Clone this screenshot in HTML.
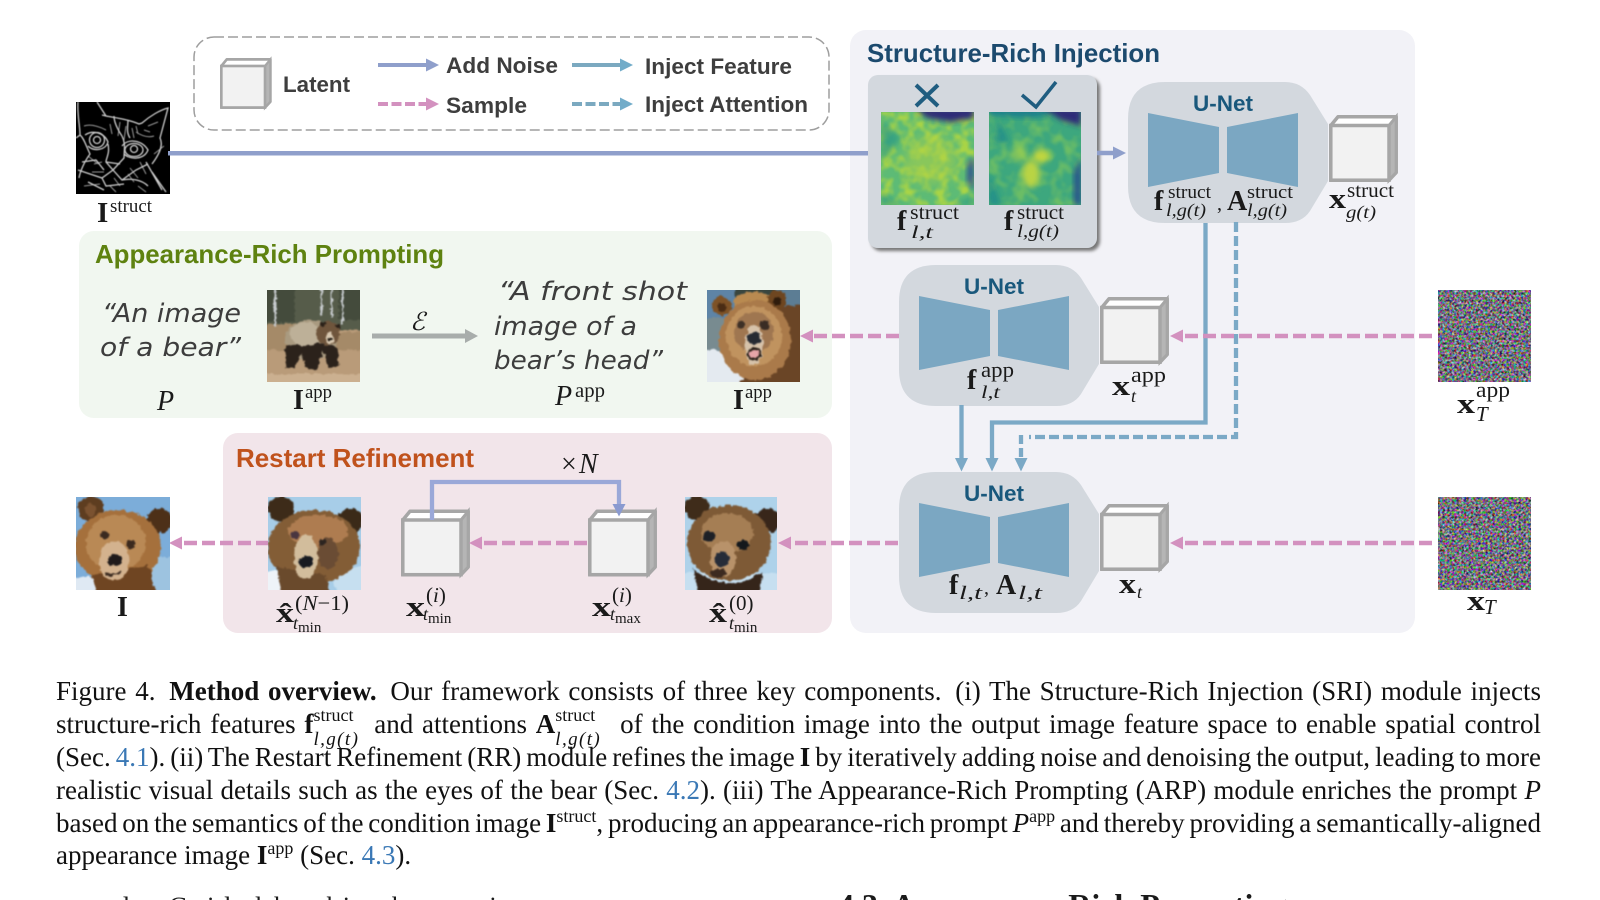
<!DOCTYPE html>
<html><head><meta charset="utf-8"><style>
html,body{margin:0;padding:0;background:#fff;width:1600px;height:900px;overflow:hidden}
#w{position:relative;width:1600px;height:900px;overflow:hidden}
svg{position:absolute;left:0;top:0}
text{font-family:"Liberation Serif",serif;fill:#1a1a1a}
.s{font-family:"Liberation Sans",sans-serif;font-weight:bold}
.lg{font-size:22px;fill:#3e3e3e}
.tt{font-size:25.8px}
.un{font-size:22.5px;fill:#19587c}
.b{font-weight:bold;font-size:28px}
.u{font-size:19px}
.a{font-size:22px}
.d{font-size:18px;font-style:italic}
.h{font-family:"DejaVu Sans",sans-serif;font-style:italic;font-size:26px;fill:#3d3d3d}
.l{position:absolute;left:56px;width:1485px;font:27px/33px "Liberation Serif",serif;color:#111;text-align:justify;text-align-last:justify;white-space:nowrap;height:33px}
.l.e{text-align-last:left}
.l a{color:#3a78b5}
.m{display:inline-block;position:relative;height:0;vertical-align:baseline}
.m span{position:absolute;left:0;line-height:1}
.sp{font-size:18px;bottom:9px;left:1px}
.sb{font-size:19px;font-style:italic;top:-3px;letter-spacing:1.400px}
.g{display:inline-block;width:5px}
</style></head><body><div id="w">
<svg width="1600" height="900" viewBox="0 0 1600 900" xmlns="http://www.w3.org/2000/svg">
<defs>
<filter id="bl" x="-10%" y="-10%" width="120%" height="120%" color-interpolation-filters="sRGB"><feTurbulence type="fractalNoise" baseFrequency="0.22" numOctaves="2" seed="3" result="t"/><feDisplacementMap in="SourceGraphic" in2="t" scale="5" xChannelSelector="R" yChannelSelector="G"/><feGaussianBlur stdDeviation="0.900"/></filter>
<filter id="bl0" x="-5%" y="-5%" width="110%" height="110%"><feGaussianBlur stdDeviation="0.400"/></filter>
<filter id="bl3" x="-30%" y="-30%" width="160%" height="160%"><feGaussianBlur stdDeviation="3"/></filter>
<filter id="bl6" x="-40%" y="-40%" width="180%" height="180%"><feGaussianBlur stdDeviation="6"/></filter>
<filter id="noise" x="0" y="0" width="100%" height="100%" color-interpolation-filters="sRGB"><feTurbulence type="fractalNoise" baseFrequency="0.42" numOctaves="2" seed="4"/><feColorMatrix values="1.500 0 0 0 -.30  0 1.500 0 0 -.30  0 0 1.500 0 -.26  0 0 0 0 1"/><feGaussianBlur stdDeviation=".35"/></filter>
<filter id="noise2" x="0" y="0" width="100%" height="100%" color-interpolation-filters="sRGB"><feTurbulence type="fractalNoise" baseFrequency="0.42" numOctaves="2" seed="11"/><feColorMatrix values="1.500 0 0 0 -.30  0 1.500 0 0 -.30  0 0 1.500 0 -.26  0 0 0 0 1"/><feGaussianBlur stdDeviation=".35"/></filter>
<filter id="heat" x="0" y="0" width="100%" height="100%" color-interpolation-filters="sRGB"><feTurbulence type="fractalNoise" baseFrequency="0.09" numOctaves="2" seed="7"/><feColorMatrix values="0 0 0 0 .66  0 0 0 0 .83  0 0 0 0 .28  3 0 0 0 -1.150"/><feGaussianBlur stdDeviation=".9"/></filter>
<filter id="heat2" x="0" y="0" width="100%" height="100%" color-interpolation-filters="sRGB"><feTurbulence type="fractalNoise" baseFrequency="0.08" numOctaves="2" seed="21"/><feColorMatrix values="0 0 0 0 .42  0 0 0 0 .74  0 0 0 0 .40  3 0 0 0 -1.250"/><feGaussianBlur stdDeviation=".9"/></filter>
<filter id="sh" x="-5%" y="-5%" width="112%" height="112%"><feDropShadow dx="3" dy="3" stdDeviation="1.600" flood-color="#777" flood-opacity="1"/></filter>
<path id="unet" d="M936 265H1056Q1072 265 1081 278L1099 307V364L1081 394Q1073 406 1056 406H936Q899 406 899 369V302Q899 265 936 265Z" fill="#d3d8de"/>
<g id="tz"><path d="M919 296L990 310V356L919 370Z" fill="#7ba7c2"/><path d="M1069 296L998 310V356L1069 370Z" fill="#7ba7c2"/></g>
<g id="cube"><path d="M1.800 10.500L9 1.800H67.200V57.500L60 65.200H1.800Z" fill="#fff" stroke="#a6a6a6" stroke-width="3.500" stroke-linejoin="round"/><path d="M60 10.500L67.200 1.800V57.500L60 65.200Z" fill="#b5b5b5" stroke="#a6a6a6" stroke-width="3"/><rect x="1.800" y="10.500" width="58.200" height="54.700" fill="#f2f2f2" stroke="#a6a6a6" stroke-width="3.500"/></g>
</defs>

<!-- panels -->
<rect x="850" y="30" width="565" height="603" rx="16" fill="#f2f2f7"/>
<rect x="79" y="231" width="753" height="187" rx="15" fill="#f1f7f0"/>
<rect x="223" y="433" width="609" height="200" rx="15" fill="#f2e5ea"/>
<text class="s tt" x="867" y="62" textLength="293" lengthAdjust="spacingAndGlyphs" style="fill:#1c4a6e">Structure-Rich Injection</text>

<!-- legend -->
<rect x="194" y="37" width="635" height="93" rx="20" fill="none" stroke="#9e9e9e" stroke-width="1.500" stroke-dasharray="10 4"/>
<use href="#cube" transform="translate(220,58) scale(.75,.76)"/>
<text class="s lg" x="283" y="92" textLength="67" lengthAdjust="spacingAndGlyphs">Latent</text>
<path d="M378 65H426" stroke="#8f9fcb" stroke-width="4"/><path d="M426 58.500L439 65L426 71.500Z" fill="#8f9fcb"/>
<path d="M378 104H426" stroke="#d391bf" stroke-width="4" stroke-dasharray="10 3.500"/><path d="M426 97.500L439 104L426 110.500Z" fill="#d391bf"/>
<path d="M572 65H620" stroke="#7ba9c0" stroke-width="4"/><path d="M620 58.500L633 65L620 71.500Z" fill="#72acc9"/>
<path d="M572 104H620" stroke="#7ba9c0" stroke-width="4" stroke-dasharray="10 3.500"/><path d="M620 97.500L633 104L620 110.500Z" fill="#72acc9"/>
<text class="s lg" x="446" y="73" textLength="112" lengthAdjust="spacingAndGlyphs">Add Noise</text>
<text class="s lg" x="446" y="113" textLength="81" lengthAdjust="spacingAndGlyphs">Sample</text>
<text class="s lg" x="645" y="74" textLength="147" lengthAdjust="spacingAndGlyphs">Inject Feature</text>
<text class="s lg" x="645" y="112" textLength="163" lengthAdjust="spacingAndGlyphs">Inject Attention</text>

<!-- cat -->
<svg x="76" y="102" width="94" height="92" viewBox="0 0 94 92">
<rect width="94" height="92" fill="#000"/>
<g fill="none" stroke="#e2e2e2" stroke-width="1.300" opacity=".9" filter="url(#bl0)">
<path d="M2 0C1 12 4 24 4 33L0 36M4 33C8 36 10 44 14 52C8 60 4 70 3 76"/>
<path d="M21 0L30 14L26 13M30 14C42 16 54 18 63 22L66 21C74 14 84 8 92 6L84 36C88 44 82 54 76 62"/>
<circle cx="21" cy="38" r="7.500"/><circle cx="21" cy="38" r="3.500"/><path d="M9 33C16 28 28 30 32 40C30 48 18 50 12 44"/>
<ellipse cx="58" cy="48" rx="9" ry="6.500"/><circle cx="58" cy="47" r="3.500"/><path d="M46 44C52 36 66 38 72 48C68 58 54 58 48 52"/>
<path d="M32 42C34 52 30 56 30 60L37 68L48 56C48 48 50 42 46 34M30 60L44 62M37 68L26 76L2 68M37 68L46 78C56 76 66 78 72 84M46 78L60 68L72 62M26 76L30 84L48 82"/>
<path d="M38 14C38 20 42 28 46 34M52 18C52 24 50 30 54 36M70 60L86 88M76 70L90 90M12 80L28 88M6 60L20 58L28 68"/>
<path d="M8 24C14 22 22 24 30 28M60 30C66 34 72 36 78 34M44 20L42 34M50 24L48 38M56 26L58 36M68 28L74 30M12 54L22 62M16 70L28 70M54 66L62 76M64 60L70 72M8 84L24 82M34 84L40 90M62 84L70 90M78 52L88 44M72 24L82 20M34 22L36 32M60 24L62 32M18 62L26 60M38 76L44 84M52 72L58 80" stroke-width="1" opacity=".75"/>
</g></svg>

<!-- main blue line -->
<rect x="168" y="151" width="702" height="4.500" fill="#8f9fcb"/>

<!-- gray box -->
<rect x="868" y="75" width="229" height="173" rx="10" fill="#d3d8de" filter="url(#sh)"/>
<path d="M916 85L938 106M938 85L916 106" stroke="#1f5d80" stroke-width="4" fill="none"/>
<path d="M1022 95L1036 107L1056 82" stroke="#1f5d80" stroke-width="3.500" fill="none"/>

<!-- heatmap 1 -->
<svg x="881" y="112" width="93" height="93" viewBox="0 0 93 93">
<rect width="93" height="93" fill="#5dbb76"/>
<rect width="93" height="93" filter="url(#heat)"/>
<ellipse cx="50" cy="48" rx="26" ry="24" fill="#b5d342" opacity=".5" filter="url(#bl6)"/>
<path d="M34 -4H93V6L70 10L46 6Z" fill="#2f2a78" filter="url(#bl3)"/>
<path d="M93 45V80L86 68L87 50Z" fill="#2f4f8f" filter="url(#bl3)"/>
<path d="M0 8L20 26L8 40L0 50ZM0 80L20 93H0ZM70 93H93V84Z" fill="#2c9a85" opacity=".75" filter="url(#bl3)"/>
</svg>
<!-- heatmap 2 -->
<svg x="989" y="112" width="92" height="93" viewBox="0 0 92 93">
<rect width="92" height="93" fill="#3da77e"/>
<rect width="92" height="93" filter="url(#heat2)"/>
<ellipse cx="42" cy="62" rx="9" ry="14" fill="#cfdc3a" opacity=".85" filter="url(#bl3)"/>
<ellipse cx="52" cy="44" rx="8" ry="7" fill="#d5dd35" opacity=".85" filter="url(#bl3)"/>
<ellipse cx="30" cy="42" rx="8" ry="8" fill="#a8d34a" opacity=".6" filter="url(#bl3)"/>
<path d="M0 -4H62V3L40 6L0 3Z" fill="#1f7f8c" filter="url(#bl3)"/>
<path d="M54 -4H92V14L72 8Z" fill="#2f2a78" filter="url(#bl3)"/>
<path d="M92 45V93H85V60Z" fill="#274f8b" filter="url(#bl3)"/>
<path d="M0 60L12 93H0ZM10 8L20 30L6 30Z" fill="#1e8a8c" opacity=".8" filter="url(#bl3)"/>
</svg>
<text class="b" x="897" y="230">f</text><text class="u" x="910" y="219" textLength="49" lengthAdjust="spacingAndGlyphs" style="font-size:20px">struct</text><text class="d" x="911" y="238" textLength="22" lengthAdjust="spacingAndGlyphs">l,t</text>
<text class="b" x="1004" y="230">f</text><text class="u" x="1017" y="219" textLength="47" lengthAdjust="spacingAndGlyphs" style="font-size:20px">struct</text><text class="d" x="1017" y="237" textLength="42" lengthAdjust="spacingAndGlyphs">l,g(t)</text>

<path d="M1097 153H1114" stroke="#8f9fcb" stroke-width="4.500"/><path d="M1113 146.500L1126 153L1113 159.500Z" fill="#8f9fcb"/>

<!-- U-Nets -->
<use href="#unet" transform="translate(229,-183)"/><use href="#tz" transform="translate(229,-183)"/>
<use href="#unet"/><use href="#tz"/>
<use href="#unet" transform="translate(0,207)"/><use href="#tz" transform="translate(0,207)"/>
<text class="s un" x="1193" y="111">U-Net</text>
<text class="s un" x="964" y="294">U-Net</text>
<text class="s un" x="964" y="501">U-Net</text>
<use href="#cube" transform="translate(1329,115)"/>
<use href="#cube" transform="translate(1100,297)"/>
<use href="#cube" transform="translate(1100,504)"/>
<use href="#cube" transform="translate(401,509.500)"/>
<use href="#cube" transform="translate(588,509.500)"/>

<text class="b" x="1154" y="210">f</text><text class="u" x="1168" y="198" textLength="43" lengthAdjust="spacingAndGlyphs">struct</text><text class="d" x="1166" y="216" textLength="40" lengthAdjust="spacingAndGlyphs">l,g(t)</text>
<text class="b" x="1217" y="210" style="font-size:20px;font-weight:normal">,</text>
<text class="b" x="1227" y="210">A</text><text class="u" x="1247" y="198" textLength="46" lengthAdjust="spacingAndGlyphs">struct</text><text class="d" x="1247" y="216" textLength="40" lengthAdjust="spacingAndGlyphs">l,g(t)</text>
<text class="b" x="1329" y="208" textLength="17" lengthAdjust="spacingAndGlyphs">x</text><text class="u" x="1347" y="197" textLength="47" lengthAdjust="spacingAndGlyphs" style="font-size:20px">struct</text><text class="d" x="1346" y="218" textLength="30" lengthAdjust="spacingAndGlyphs">g(t)</text>

<text class="b" x="967" y="389">f</text><text class="a" x="981" y="377" textLength="33" lengthAdjust="spacingAndGlyphs">app</text><text class="d" x="981" y="398" textLength="19" lengthAdjust="spacingAndGlyphs">l,t</text>
<text class="b" x="1112" y="395" textLength="18" lengthAdjust="spacingAndGlyphs">x</text><text class="a" x="1131" y="382" textLength="35" lengthAdjust="spacingAndGlyphs">app</text><text class="d" x="1131" y="402">t</text>
<text class="b" x="949" y="594">f</text><text class="d" x="959" y="599" textLength="23" lengthAdjust="spacingAndGlyphs" style="font-size:19px">l,t</text><text class="b" x="984" y="594" style="font-size:20px;font-weight:normal">,</text>
<text class="b" x="996" y="594">A</text><text class="d" x="1018" y="599" textLength="24" lengthAdjust="spacingAndGlyphs" style="font-size:19px">l,t</text>
<text class="b" x="1119" y="593" textLength="17" lengthAdjust="spacingAndGlyphs">x</text><text class="d" x="1137" y="598">t</text>

<!-- noise -->
<rect x="1438" y="290" width="93" height="92" filter="url(#noise)"/>
<rect x="1438" y="497" width="93" height="93" filter="url(#noise2)"/>
<text class="b" x="1457" y="413" textLength="18" lengthAdjust="spacingAndGlyphs">x</text><text class="a" x="1476" y="397" textLength="34" lengthAdjust="spacingAndGlyphs">app</text><text class="d" x="1476" y="421" style="font-size:21px">T</text>
<text class="b" x="1467" y="610" textLength="18" lengthAdjust="spacingAndGlyphs">x</text><text class="d" x="1484" y="614" style="font-size:21px">T</text>

<!-- injection lines -->
<g fill="none" stroke="#7ba9c6" stroke-width="4.300">
<path d="M1205.500 223V422.500H992V460"/>
<path d="M961.500 405V460"/>
<path d="M1236 222V437H1029" stroke-dasharray="10 4"/>
<path d="M1021 435V460" stroke-dasharray="9 4"/>
</g>
<g fill="#7ba9c6"><path d="M955 458H968L961.500 471.500Z"/><path d="M985.500 458H998.500L992 471.500Z"/><path d="M1014.500 458H1027.500L1021 471.500Z"/></g>

<!-- pink dashed -->
<g fill="none" stroke="#d391bf" stroke-width="4.500" stroke-dasharray="13 5">
<path d="M1432 336H1181"/><path d="M1432 543H1181"/>
<path d="M899 336H812"/><path d="M898 543H788"/>
<path d="M587 543H480"/><path d="M269 543H180"/>
</g>
<g fill="#d391bf"><path d="M1170 336L1183 329.500V342.500Z"/><path d="M1170 543L1183 536.500V549.500Z"/><path d="M800 336L813 329.500V342.500Z"/><path d="M778 543L791 536.500V549.500Z"/><path d="M469 543L482 536.500V549.500Z"/><path d="M169 543L182 536.500V549.500Z"/></g>

<!-- ARP -->
<text class="s tt" x="95" y="263" textLength="349" lengthAdjust="spacingAndGlyphs" style="fill:#5e8210">Appearance-Rich Prompting</text>
<text class="h" x="102" y="322" textLength="139" lengthAdjust="spacingAndGlyphs">“An image</text>
<text class="h" x="100" y="356" textLength="141" lengthAdjust="spacingAndGlyphs">of a bear”</text>
<text class="h" x="498" y="300" textLength="189" lengthAdjust="spacingAndGlyphs">“A front shot</text>
<text class="h" x="494" y="335" textLength="143" lengthAdjust="spacingAndGlyphs">image of a</text>
<text class="h" x="494" y="369" textLength="169" lengthAdjust="spacingAndGlyphs">bear’s head”</text>
<text x="157" y="410" font-size="28" font-style="italic">P</text>
<text class="b" x="293" y="409">I</text><text class="u" x="305" y="398" textLength="27" lengthAdjust="spacingAndGlyphs">app</text>
<text class="b" x="733" y="409">I</text><text class="u" x="745" y="398" textLength="27" lengthAdjust="spacingAndGlyphs">app</text>
<text x="555" y="405" font-size="28" font-style="italic">P</text><text class="u" x="575" y="397" textLength="30" lengthAdjust="spacingAndGlyphs" style="font-size:20px">app</text>
<text x="410" y="330" font-size="25" style="font-family:'DejaVu Serif',serif;font-style:italic">ℰ</text>
<path d="M372 336H466" stroke="#a8adab" stroke-width="5"/><path d="M465 329L478 336L465 343Z" fill="#a8adab"/>

<!-- bear full body -->
<svg x="267" y="290" width="93" height="92" viewBox="0 0 93 92">
<rect width="93" height="92" fill="#b99b79"/>
<g filter="url(#bl)">
<rect x="-4" y="-4" width="101" height="44" fill="#565c4a"/>
<path d="M-4 36Q30 30 50 38T97 40V60H-4Z" fill="#a58a68"/>
<path d="M-4 -4H28V32H-4ZM72 -4H97V30H72Z" fill="#444b3c"/>
<g fill="#c9cdd0"><rect x="7" y="-2" width="2.500" height="38"/><rect x="53.500" y="-2" width="2" height="28"/><rect x="63.500" y="-2" width="2" height="30"/><rect x="74.500" y="-2" width="2" height="36"/></g>
<ellipse cx="44" cy="50" rx="26" ry="20" fill="#a99a80"/>
<path d="M18 56Q20 74 18 78L28 78L34 62L38 78L50 80L56 60L62 78L72 76L70 58L50 52Z" fill="#2b221b"/>
<ellipse cx="38" cy="44" rx="15" ry="12" fill="#bdb098"/>
<circle cx="61" cy="43" r="12" fill="#6f553c"/>
<circle cx="56" cy="34" r="3" fill="#2a2018"/><circle cx="71" cy="36" r="3" fill="#2a2018"/>
<ellipse cx="63" cy="48" rx="4" ry="6" fill="#d8c8b0"/><circle cx="63" cy="49" r="1.800" fill="#1f1810"/>
<path d="M-4 84H97V96H-4Z" fill="#cbb090"/>
</g></svg>

<!-- bear head app -->
<svg x="707" y="290" width="93" height="92" viewBox="0 0 93 92">
<rect width="93" height="92" fill="#5e84a6"/>
<g filter="url(#bl)">
<rect x="-4" y="28" width="34" height="34" fill="#788b90"/>
<rect x="-4" y="60" width="49" height="36" fill="#e4eaf0"/>
<rect x="28" y="-4" width="40" height="18" fill="#39463f"/>
<rect x="70" y="-4" width="27" height="28" fill="#5c7d94"/>
<path d="M70 18L97 14V96H30L60 60Z" fill="#6a4526"/>
<ellipse cx="47" cy="12" rx="20" ry="10" fill="#b98a50"/>
<circle cx="15" cy="16" r="9.500" fill="#7e5226"/><circle cx="15" cy="17" r="4.500" fill="#4a2c14"/>
<circle cx="70" cy="10" r="9.500" fill="#6e4620"/><circle cx="70" cy="11" r="4.500" fill="#2f1c0c"/>
<ellipse cx="48" cy="50" rx="36" ry="40" fill="#aa7a4a"/>
<ellipse cx="47" cy="46" rx="28" ry="30" fill="#c0935f"/>
<ellipse cx="47" cy="42" rx="20" ry="20" fill="#9f7650"/>
<ellipse cx="47" cy="55" rx="9" ry="20" fill="#d6c2aa"/>
<circle cx="34" cy="35" r="4.200" fill="#3e3026"/><circle cx="57" cy="35" r="5" fill="#3a2c24"/>
<ellipse cx="47" cy="48" rx="7" ry="6" fill="#262a32"/>
<ellipse cx="47" cy="64" rx="7" ry="6.500" fill="#2a2018"/><ellipse cx="47" cy="64" rx="5" ry="4" fill="#e6a5a8"/>
</g></svg>

<!-- RR -->
<text class="s tt" x="236" y="467" textLength="238" lengthAdjust="spacingAndGlyphs" style="fill:#c0521c">Restart Refinement</text>
<text x="561" y="473" font-size="28">×</text><text x="579" y="473" font-size="28" font-style="italic">N</text>
<path d="M432 520V482H619V506" fill="none" stroke="#9aa8d8" stroke-width="4.300"/>
<path d="M612.500 504H625.500L619 516.500Z" fill="#8a9ad0"/>

<svg x="76" y="497" width="94" height="93" viewBox="0 0 94 93">
<rect width="94" height="93" fill="#7cadd9"/>
<g filter="url(#bl)">
<path d="M-4 80H40V97H-4Z" fill="#dfe9f3"/>
<path d="M70 60H98V97H75Z" fill="#9dc3e0"/>
<circle cx="15" cy="12" r="13" fill="#5e3d20"/><circle cx="15" cy="13" r="6" fill="#7b5230"/>
<circle cx="83" cy="24" r="12.500" fill="#4d3018"/>
<ellipse cx="42" cy="50" rx="43" ry="37" fill="#a5703c"/>
<path d="M16 78L72 68L80 97H22Z" fill="#6f4522"/>
<ellipse cx="40" cy="46" rx="30" ry="28" fill="#b98955"/>
<ellipse cx="38" cy="64" rx="15" ry="20" fill="#d3b28e"/>
<circle cx="29" cy="38" r="4" fill="#3a2a20"/><circle cx="55" cy="47" r="4.500" fill="#3c2a1e"/>
<ellipse cx="39" cy="63" rx="7" ry="6" fill="#1f1a1a"/><path d="M30 76Q38 80 46 74" stroke="#3a2a20" stroke-width="2" fill="none"/>
</g></svg>

<svg x="268" y="497" width="93" height="93" viewBox="0 0 93 93">
<rect width="93" height="93" fill="#a7cde8"/>
<g filter="url(#bl)">
<path d="M-4 74H30V97H-4Z" fill="#eef3f8"/>
<path d="M60 70H97V97H70Z" fill="#c6dff0"/>
<circle cx="13" cy="12" r="13" fill="#3d2b19"/><circle cx="82" cy="24" r="12.500" fill="#3b2a18"/>
<ellipse cx="46" cy="50" rx="46" ry="37" fill="#835d36"/>
<path d="M8 70L58 78L62 97H14Z" fill="#6a4a2c"/>
<ellipse cx="50" cy="34" rx="30" ry="16" fill="#ae7c50"/>
<ellipse cx="38" cy="60" rx="12" ry="22" fill="#d2bd9c"/>
<ellipse cx="60" cy="56" rx="10" ry="16" fill="#6a4c34"/>
<circle cx="27" cy="38" r="4" fill="#4a3640"/><circle cx="55" cy="45" r="3.500" fill="#2c2420"/>
<ellipse cx="38" cy="65" rx="7" ry="6" fill="#171a20"/>
</g></svg>

<svg x="685" y="497" width="92" height="93" viewBox="0 0 92 93">
<rect width="92" height="93" fill="#aed2ea"/>
<g filter="url(#bl)">
<path d="M-4 76H96V97H-4Z" fill="#c6dff0"/>
<circle cx="12" cy="11" r="12.500" fill="#3f2c1a"/><circle cx="82" cy="24" r="12.500" fill="#38261a"/>
<ellipse cx="44" cy="46" rx="42" ry="38" fill="#7e5a36"/>
<path d="M8 72Q44 100 78 74L74 97H14Z" fill="#35251a"/>
<ellipse cx="42" cy="36" rx="26" ry="20" fill="#a57e54"/>
<ellipse cx="38" cy="62" rx="13" ry="18" fill="#b8926a"/>
<circle cx="24" cy="39" r="5.500" fill="#1d2026"/><circle cx="58" cy="48" r="5.500" fill="#14181c"/>
<ellipse cx="37" cy="62" rx="7" ry="8" fill="#262c38"/>
<ellipse cx="34" cy="76" rx="9" ry="4" fill="#3c2a20"/>
</g></svg>

<text class="b" x="117" y="616">I</text>
<text class="b" x="276" y="622" textLength="18" lengthAdjust="spacingAndGlyphs">x̂</text><text class="u" x="295" y="610" textLength="54" lengthAdjust="spacingAndGlyphs" style="font-size:21px">(<tspan font-style="italic">N</tspan>−1)</text><text class="d" x="293" y="629">t<tspan font-size="15" font-style="normal" dy="3">min</tspan></text>
<text class="b" x="406" y="616" textLength="19" lengthAdjust="spacingAndGlyphs">x</text><text class="u" x="426" y="602" style="font-size:21px">(<tspan font-style="italic">i</tspan>)</text><text class="d" x="423" y="620">t<tspan font-size="15" font-style="normal" dy="3">min</tspan></text>
<text class="b" x="592" y="616" textLength="19" lengthAdjust="spacingAndGlyphs">x</text><text class="u" x="612" y="602" style="font-size:21px">(<tspan font-style="italic">i</tspan>)</text><text class="d" x="610" y="620">t<tspan font-size="15" font-style="normal" dy="3">max</tspan></text>
<text class="b" x="709" y="622" textLength="18" lengthAdjust="spacingAndGlyphs">x̂</text><text class="u" x="729" y="610" style="font-size:21px">(0)</text><text class="d" x="729" y="629">t<tspan font-size="15" font-style="normal" dy="3">min</tspan></text>
<text class="b" x="97" y="222" style="font-size:29px">I</text><text class="u" x="110" y="212" textLength="42" lengthAdjust="spacingAndGlyphs">struct</text>

<!-- clipped lines at the bottom -->
<text x="96" y="915" font-size="26.200" textLength="50">under.</text>
<text x="169" y="915" font-size="26.200" textLength="416" lengthAdjust="spacing">Guided by this observation, we</text>
<text x="838" y="916" font-size="32" font-weight="bold">4.3. Appearance-Rich Prompting</text>
</svg>

<div class="l" style="top:675px">Figure 4.<span class="g"></span> <b>Method overview.</b><span class="g"></span> Our framework consists of three key components.<span class="g"></span> (i) The Structure-Rich Injection (SRI) module injects</div>
<div class="l" style="top:708px">structure-rich features <b>f</b><span class="m" style="width:52px"><span class="sp">struct</span><span class="sb">l,g(t)</span></span> and attentions <b>A</b><span class="m" style="width:56px"><span class="sp">struct</span><span class="sb">l,g(t)</span></span> of the condition image into the output image feature space to enable spatial control</div>
<div class="l" style="top:741px;word-spacing:-2px">(Sec. <a>4.1</a>). (ii) The Restart Refinement (RR) module refines the image <b>I</b> by iteratively adding noise and denoising the output, leading to more</div>
<div class="l" style="top:774px">realistic visual details such as the eyes of the bear (Sec. <a>4.2</a>). (iii) The Appearance-Rich Prompting (ARP) module enriches the prompt <i>P</i></div>
<div class="l" style="top:807px;word-spacing:-2.200px">based on the semantics of the condition image <b>I</b><sup style="font-size:18px;line-height:0">struct</sup>, producing an appearance-rich prompt <i>P</i><sup style="font-size:18px;line-height:0">app</sup> and thereby providing a semantically-aligned</div>
<div class="l e" style="top:839px">appearance image <b>I</b><sup style="font-size:18px;line-height:0">app</sup> (Sec. <a>4.3</a>).</div>
</div></body></html>
